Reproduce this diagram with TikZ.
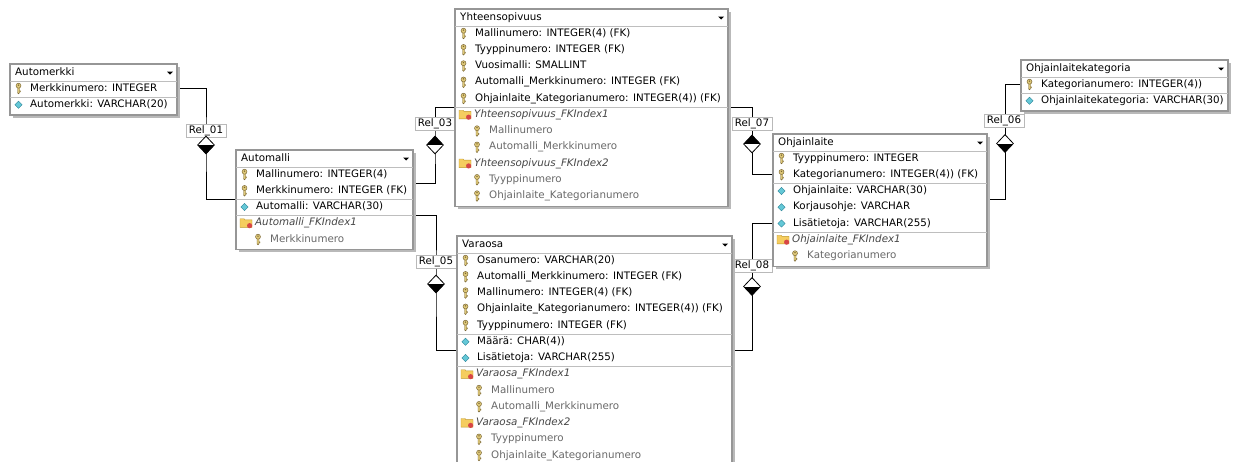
\documentclass[tikz,border=0pt]{standalone}
\usepackage{fontspec}
\setmainfont{DejaVu Sans}
\usetikzlibrary{shapes.geometric,fit,calc}
\pgfdeclarelayer{paper}
\pgfdeclarelayer{bg}
\pgfsetlayers{paper,bg,main}

\definecolor{boxedge}{RGB}{150,150,150}
\definecolor{boxshade}{RGB}{185,185,185}
\definecolor{sepline}{RGB}{190,190,190}
\definecolor{subtext}{RGB}{105,105,105}
\definecolor{idxtext}{RGB}{70,70,70}
\definecolor{relframe}{RGB}{185,185,185}
\definecolor{keyfill}{RGB}{222,200,120}
\definecolor{keyedge}{RGB}{120,100,50}
\definecolor{attrfill}{RGB}{100,200,215}
\definecolor{attredge}{RGB}{40,130,150}
\definecolor{folderfill}{RGB}{245,205,95}
\definecolor{folderedge}{RGB}{190,150,40}
\definecolor{dotred}{RGB}{215,70,70}

\newcommand{\tblfont}{\fontsize{10.3}{12.4}\selectfont}

\tikzset{
  x=1pt, y=-1pt,
  every node/.style={font=\tblfont},
  rowtext/.style={anchor=west, inner sep=0pt, text height=7.6pt, text depth=2.2pt},
  tblframe/.style={draw=boxedge, line width=1.4pt, fill=white, inner sep=0pt},
  relbox/.style={draw=relframe, fill=white, line width=0.6pt, inner xsep=3pt,
    inner ysep=1.8pt, text height=7.6pt, text depth=2.2pt},
  cardlow/.style={diamond, draw=black, line width=0.8pt, fill=white,
    minimum width=17pt, minimum height=18pt, inner sep=0pt,
    path picture={\fill[black] (path picture bounding box.west) rectangle (path picture bounding box.south east);}},
  cardhigh/.style={diamond, draw=black, line width=0.8pt, fill=white,
    minimum width=17pt, minimum height=18pt, inner sep=0pt,
    path picture={\fill[black] (path picture bounding box.north west) rectangle (path picture bounding box.east);}},
  conn/.style={draw=black, line width=0.9pt},
  keyic/.pic={
    \draw[keyedge, fill=keyfill, line width=0.45pt]
      (-1,-1) -- (-1,4.2) -- (0,5.3) -- (1,4.2) -- (1,3.4) -- (2,3.4) -- (2,2.4) -- (1,2.4) -- (1,-1) -- cycle;
    \draw[keyedge, fill=keyfill, line width=0.45pt] (0,-2.8) circle (2.5);
    \fill[keyedge] (0,-3.4) circle (0.8);
  },
  attric/.pic={
    \draw[attredge, fill=attrfill, line width=0.45pt] (0,-3.6) -- (3.6,0) -- (0,3.6) -- (-3.6,0) -- cycle;
  },
  folderic/.pic={
    \draw[folderedge, fill=folderfill, line width=0.45pt]
      (-6,-4.5) -- (-2,-4.5) -- (-1,-3.3) -- (6,-3.3) -- (6,4.2) -- (-6,4.2) -- cycle;
    \fill[dotred] (3.6,2.4) circle (2.6);
  },
}

% table frame: name, left, top, right, number of rows, title, separator positions
\newcommand{\erbox}[7]{%
  \gdef\curL{#2}\gdef\curT{#3}\gdef\curR{#4}%
  \pgfmathsetmacro\curB{#3+18.5+16.25*#5}%
  \fill[boxshade] ({#2+2.5},{#3+2.5}) rectangle ({#4+2.5},{\curB+2.5});
  \coordinate (#1-nw) at (#2,#3);
  \coordinate (#1-se) at (#4,\curB);
  \node[tblframe, fit=(#1-nw)(#1-se)] (#1) {};
  \node[rowtext] (#1-title) at ({#2+5},{#3+9}) {#6};
  \fill ({#4-10},{#3+7.5}) -- ({#4-4},{#3+7.5}) -- ({#4-7},{#3+10.5}) -- cycle;
  \draw[sepline, line width=0.8pt] (#2,{#3+17}) -- (#4,{#3+17});
  \foreach \k in {#7} {\draw[sepline, line width=0.8pt] (#2,{#3+17+16.25*(\k)}) -- (#4,{#3+17+16.25*(\k)});}
  \foreach \k in {1,...,#5} {\coordinate (#1-b\k) at (#2,{#3+17+16.25*\k});}
}
\newcommand{\keyrow}[3]{%
  \pgfmathsetmacro\ry{\curT+24.5+16.25*#2}%
  \pic at ({\curL+8.5},\ry) {keyic};
  \node[rowtext] (#1) at ({\curL+20},\ry) {#3};}
\newcommand{\attrrow}[3]{%
  \pgfmathsetmacro\ry{\curT+24.5+16.25*#2}%
  \pic at ({\curL+8.5},\ry) {attric};
  \node[rowtext] (#1) at ({\curL+20},\ry) {#3};}
\newcommand{\idxrow}[3]{%
  \pgfmathsetmacro\ry{\curT+24.5+16.25*#2}%
  \pic at ({\curL+10},\ry) {folderic};
  \node[rowtext, text=idxtext, font=\tblfont\itshape] (#1) at ({\curL+19},\ry) {#3};}
\newcommand{\subrow}[3]{%
  \pgfmathsetmacro\ry{\curT+24.5+16.25*#2}%
  \pic at ({\curL+22},\ry) {keyic};
  \node[rowtext, text=subtext] (#1) at ({\curL+34},\ry) {#3};}

\begin{document}
\begin{tikzpicture}
\useasboundingbox (0,0) rectangle (1233,461);
\begin{pgfonlayer}{paper}
\fill[white] (0,0) rectangle (1233,461);
\end{pgfonlayer}
\clip (0,0) rectangle (1233,461);

% relationship labels and cardinality diamonds
\node[relbox] (r01) at (206,131) {Rel\_01};
\node[cardlow] (d01) at (206,145) {};
\node[relbox] (r03) at (435,124) {Rel\_03};
\node[cardhigh] (d03) at (435,145) {};
\node[relbox] (r05) at (436,261.5) {Rel\_05};
\node[cardlow] (d05) at (436,284) {};
\node[relbox] (r07) at (752,123.5) {Rel\_07};
\node[cardhigh] (d07) at (752,144) {};
\node[relbox] (r06) at (1004,120.5) {Rel\_06};
\node[cardlow] (d06) at (1005,143.5) {};
\node[relbox] (r08) at (752,265.5) {Rel\_08};
\node[cardlow] (d08) at (752,286.5) {};

% Automerkki
\erbox{am}{10}{64}{177}{2}{Automerkki}{1}
\keyrow{am0}{0}{Merkkinumero: INTEGER}
\attrrow{am1}{1}{Automerkki: VARCHAR(20)}

% Automalli
\erbox{aml}{236}{150}{413}{5}{Automalli}{2,3}
\keyrow{aml0}{0}{Mallinumero: INTEGER(4)}
\keyrow{aml1}{1}{Merkkinumero: INTEGER (FK)}
\attrrow{aml2}{2}{Automalli: VARCHAR(30)}
\idxrow{aml3}{3}{Automalli\_FKIndex1}
\subrow{aml4}{4}{Merkkinumero}

% Yhteensopivuus
\erbox{yh}{455}{9}{728}{11}{Yhteensopivuus}{5}
\keyrow{yh0}{0}{Mallinumero: INTEGER(4) (FK)}
\keyrow{yh1}{1}{Tyyppinumero: INTEGER (FK)}
\keyrow{yh2}{2}{Vuosimalli: SMALLINT}
\keyrow{yh3}{3}{Automalli\_Merkkinumero: INTEGER (FK)}
\keyrow{yh4}{4}{Ohjainlaite\_Kategorianumero: INTEGER(4)) (FK)}
\idxrow{yh5}{5}{Yhteensopivuus\_FKIndex1}
\subrow{yh6}{6}{Mallinumero}
\subrow{yh7}{7}{Automalli\_Merkkinumero}
\idxrow{yh8}{8}{Yhteensopivuus\_FKIndex2}
\subrow{yh9}{9}{Tyyppinumero}
\subrow{yh10}{10}{Ohjainlaite\_Kategorianumero}

% Varaosa
\erbox{vo}{457}{236}{732}{13}{Varaosa}{5,7}
\keyrow{vo0}{0}{Osanumero: VARCHAR(20)}
\keyrow{vo1}{1}{Automalli\_Merkkinumero: INTEGER (FK)}
\keyrow{vo2}{2}{Mallinumero: INTEGER(4) (FK)}
\keyrow{vo3}{3}{Ohjainlaite\_Kategorianumero: INTEGER(4)) (FK)}
\keyrow{vo4}{4}{Tyyppinumero: INTEGER (FK)}
\attrrow{vo5}{5}{Määrä: CHAR(4))}
\attrrow{vo6}{6}{Lisätietoja: VARCHAR(255)}
\idxrow{vo7}{7}{Varaosa\_FKIndex1}
\subrow{vo8}{8}{Mallinumero}
\subrow{vo9}{9}{Automalli\_Merkkinumero}
\idxrow{vo10}{10}{Varaosa\_FKIndex2}
\subrow{vo11}{11}{Tyyppinumero}
\subrow{vo12}{12}{Ohjainlaite\_Kategorianumero}

% Ohjainlaite
\erbox{oh}{773}{134}{987}{7}{Ohjainlaite}{2,5}
\keyrow{oh0}{0}{Tyyppinumero: INTEGER}
\keyrow{oh1}{1}{Kategorianumero: INTEGER(4)) (FK)}
\attrrow{oh2}{2}{Ohjainlaite: VARCHAR(30)}
\attrrow{oh3}{3}{Korjausohje: VARCHAR}
\attrrow{oh4}{4}{Lisätietoja: VARCHAR(255)}
\idxrow{oh5}{5}{Ohjainlaite\_FKIndex1}
\subrow{oh6}{6}{Kategorianumero}

% Ohjainlaitekategoria
\erbox{ok}{1021}{60}{1228}{2}{Ohjainlaitekategoria}{1}
\keyrow{ok0}{0}{Kategorianumero: INTEGER(4))}
\attrrow{ok1}{1}{Ohjainlaitekategoria: VARCHAR(30)}

% relationship lines
\begin{pgfonlayer}{bg}
\draw[conn] (am.east |- am0) -| (d01.center) |- (aml.west |- aml-b2);
\draw[conn] (aml.east |- aml-b1) -| (d03.center) |- (yh.west |- yh-b5);
\draw[conn] (aml.east |- aml-b3) -| (d05.center) |- (vo.west |- vo-b6);
\draw[conn] (yh.east |- yh-b5) -| (d07.center) |- (oh.west |- oh1);
\draw[conn] (ok.west |- ok0) -| (d06.center) |- (oh.east |- oh-b3);
\draw[conn] (oh.west |- oh4) -| (d08.center) |- (vo.east |- vo-b6);
\end{pgfonlayer}
\end{tikzpicture}
\end{document}
